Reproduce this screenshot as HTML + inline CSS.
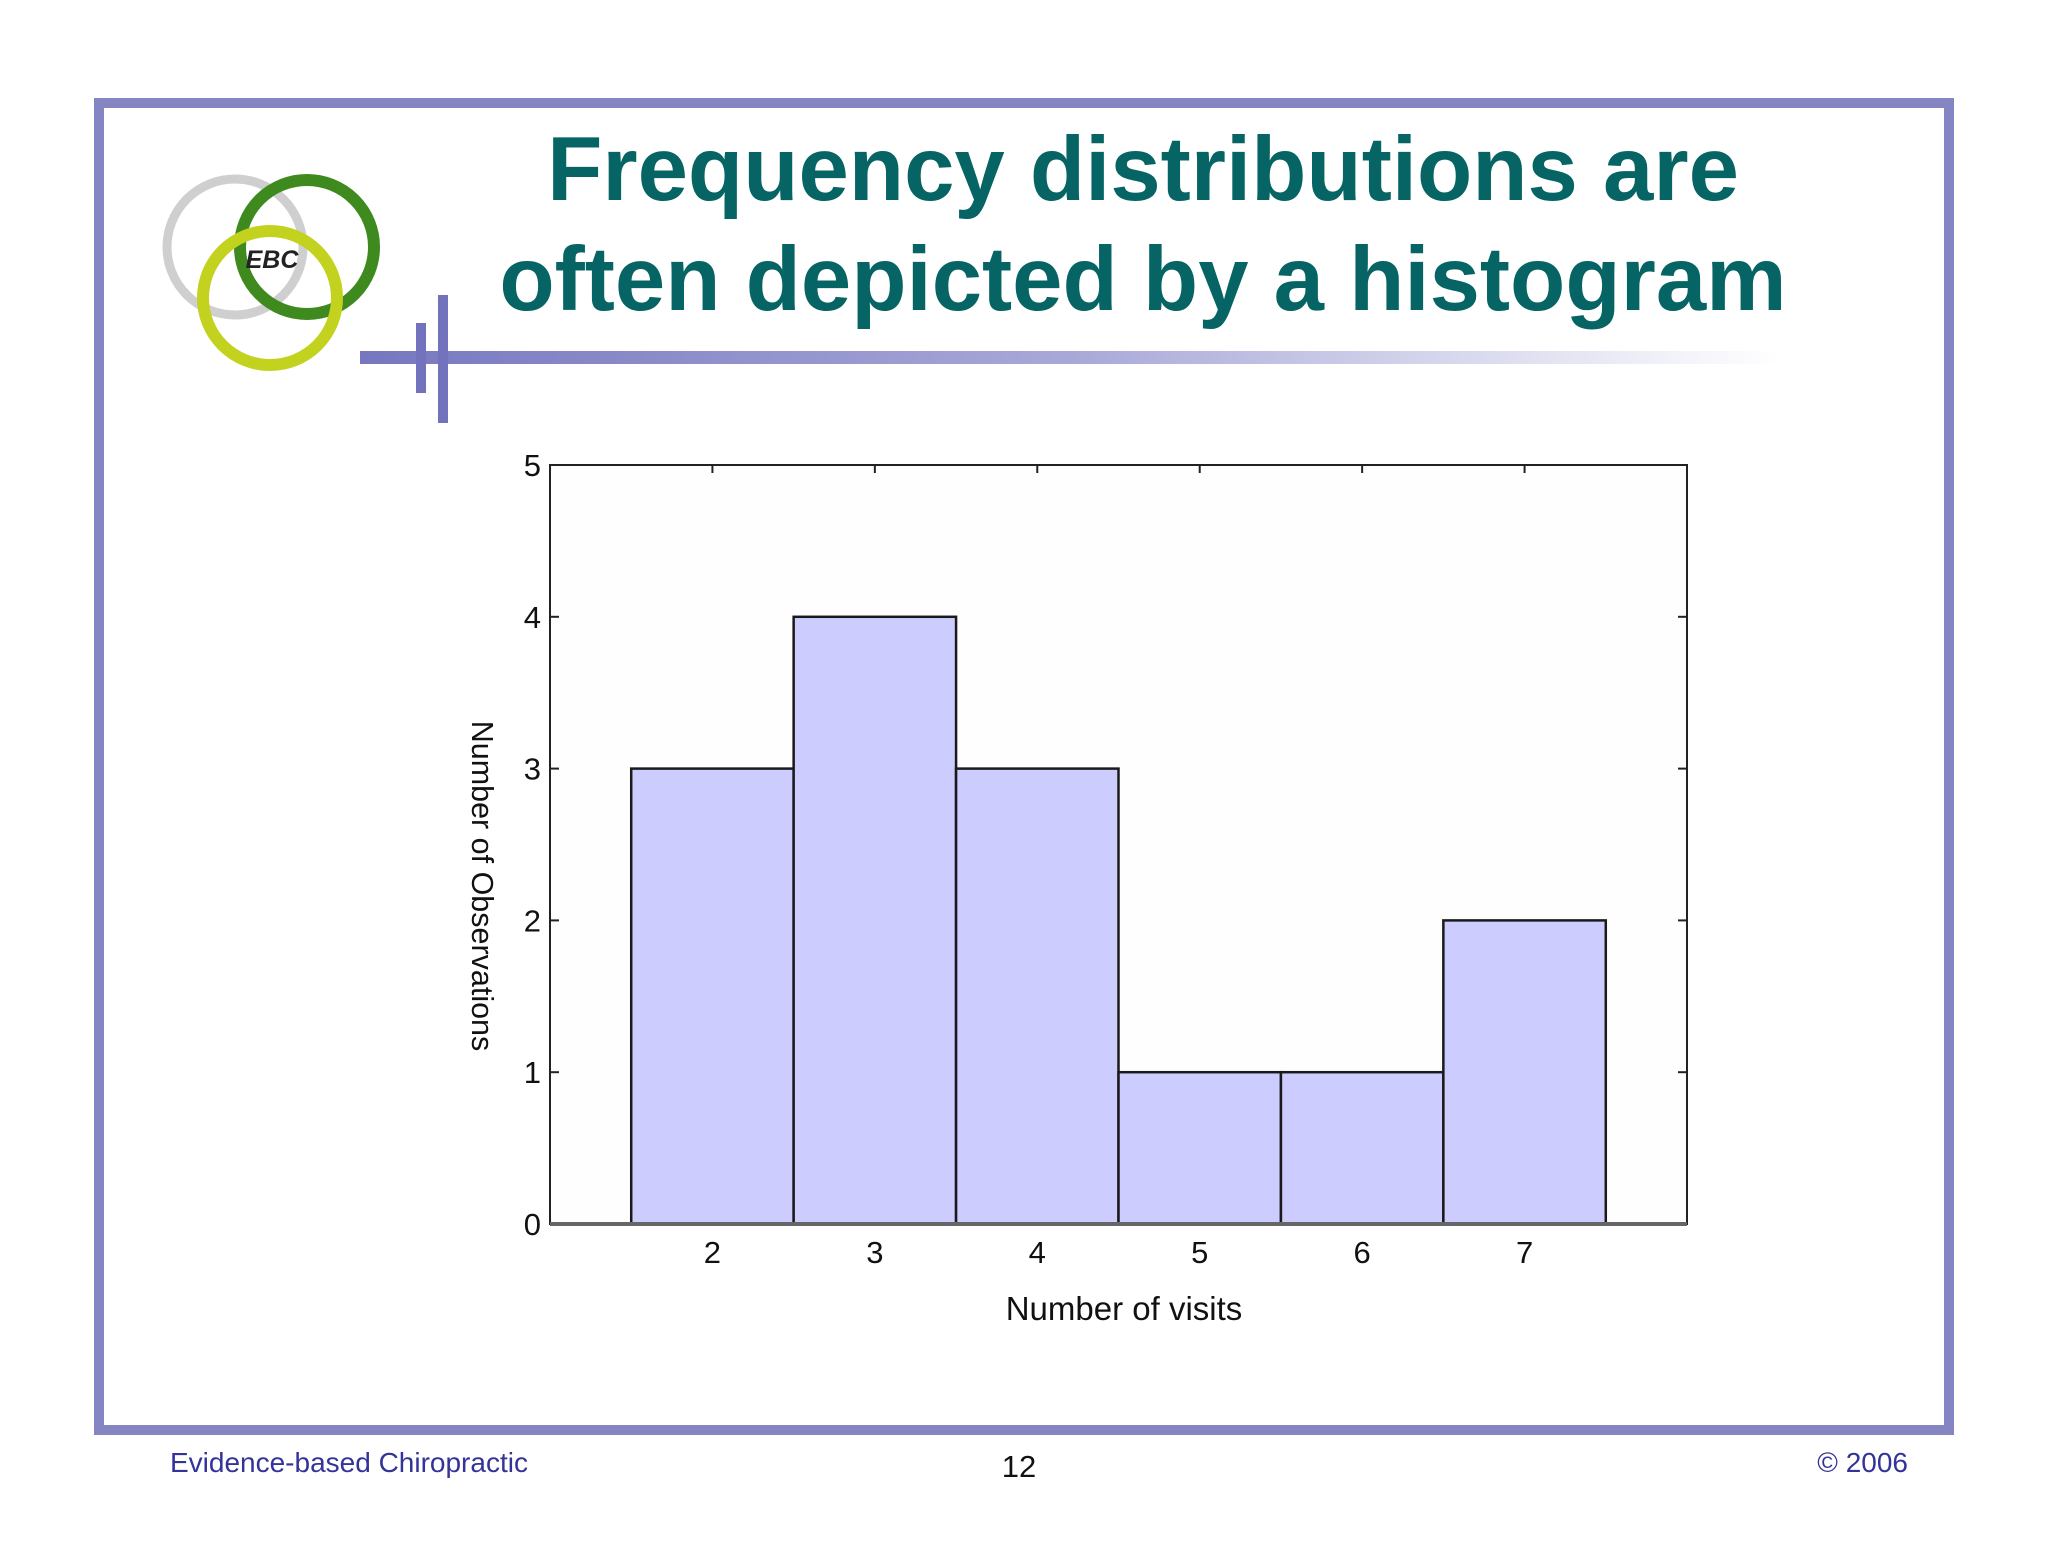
<!DOCTYPE html>
<html><head><meta charset="utf-8"><style>
html,body{margin:0;padding:0;background:#fff;}
body{width:2048px;height:1536px;position:relative;overflow:hidden;font-family:"Liberation Sans",sans-serif;}
</style></head><body>
<svg width="2048" height="1536" viewBox="0 0 2048 1536" xmlns="http://www.w3.org/2000/svg">
<defs>
<linearGradient id="hl" x1="0" x2="1" y1="0" y2="0">
<stop offset="0" stop-color="#7777c0"/><stop offset="0.5" stop-color="#a8a8d8"/><stop offset="1" stop-color="#ffffff"/>
</linearGradient>
</defs>
<rect x="99" y="103" width="1850" height="1327" fill="none" stroke="#8585c3" stroke-width="10"/>
<g>
<circle cx="235" cy="247" r="68" fill="none" stroke="#cfcfcf" stroke-width="9"/>
<circle cx="307" cy="247" r="67" fill="none" stroke="#3f8a1f" stroke-width="12"/>
<circle cx="270" cy="298" r="67" fill="none" stroke="#c2d21e" stroke-width="12"/>
<text x="272" y="268" font-size="25" font-style="italic" font-weight="bold" text-anchor="middle" fill="#222">EBC</text>
</g>
<g>
<rect x="360" y="351" width="1420" height="13" fill="url(#hl)"/>
<rect x="416" y="323" width="10" height="70" fill="#7373bd"/>
<rect x="438" y="295" width="10" height="128" fill="#7373bd"/>
</g>
<text x="1143" y="200" font-size="90.5" font-weight="bold" fill="#066464" text-anchor="middle">Frequency distributions are</text>
<text x="1143" y="310" font-size="90.5" font-weight="bold" fill="#066464" text-anchor="middle">often depicted by a histogram</text>
<g id="chart"></g>
<text x="170" y="1472" font-size="28" fill="#333399">Evidence-based Chiropractic</text>
<text x="1019" y="1477" font-size="31" fill="#111" text-anchor="middle">12</text>
<text x="1908" y="1472" font-size="28" fill="#333399" text-anchor="end">© 2006</text>
</svg>
<script>
const categories = [2, 3, 4, 5, 6, 7];
const counts = [3, 4, 3, 1, 1, 2];
const yTicks = [0, 1, 2, 3, 4, 5];
const xLabel = "Number of visits";
const yLabel = "Number of Observations";

const L = 550, R = 1687, T = 465, B = 1224;
const x = v => L + (v - 1) / 7 * (R - L);
const y = v => B - v / 5 * (B - T);
const ns = "http://www.w3.org/2000/svg";
const g = document.getElementById('chart');
function mk(tag, attrs, text) {
  const e = document.createElementNS(ns, tag);
  for (const k in attrs) e.setAttribute(k, attrs[k]);
  if (text !== undefined) e.textContent = text;
  g.appendChild(e);
  return e;
}
const bg = mk('rect', {x: L, y: T, width: R - L, height: B - T, fill: '#fefefe', stroke: '#222', 'stroke-width': 2});


categories.forEach((c, i) => {
  const r = mk('rect', {x: x(c - 0.5), y: y(counts[i]), width: x(c + 0.5) - x(c - 0.5), height: y(0) - y(counts[i]), fill: '#ccccff', stroke: '#1a1a1a', 'stroke-width': 2.5});
  
  
  const tk = mk('line', {x1: x(c), x2: x(c), y1: T, y2: T + 8, stroke: '#222', 'stroke-width': 2});
  
  
  const lb = mk('text', {x: x(c), y: 1263, 'font-size': 31, 'text-anchor': 'middle', fill: '#111'}, String(c));
  
  
});
yTicks.forEach(t => {
  const a = mk('line', {x1: L, x2: L + 9, y1: y(t), y2: y(t), stroke: '#222', 'stroke-width': 2});
  
  
  const b = mk('line', {x1: R - 9, x2: R, y1: y(t), y2: y(t), stroke: '#222', 'stroke-width': 2});
  
  
  const lb = mk('text', {x: 541, y: y(t) + 11, 'font-size': 31, 'text-anchor': 'end', fill: '#111'}, String(t));
  
  
});
const ax = mk('line', {x1: L, x2: R, y1: B, y2: B, stroke: '#666', 'stroke-width': 4});


const xt = mk('text', {x: 1124, y: 1320, 'font-size': 33, 'text-anchor': 'middle', fill: '#111'}, xLabel);


const yt = mk('text', {x: 0, y: 0, 'font-size': 30.5, 'text-anchor': 'middle', fill: '#111', transform: 'translate(472,886) rotate(90)'}, yLabel);


</script>
</body></html>
